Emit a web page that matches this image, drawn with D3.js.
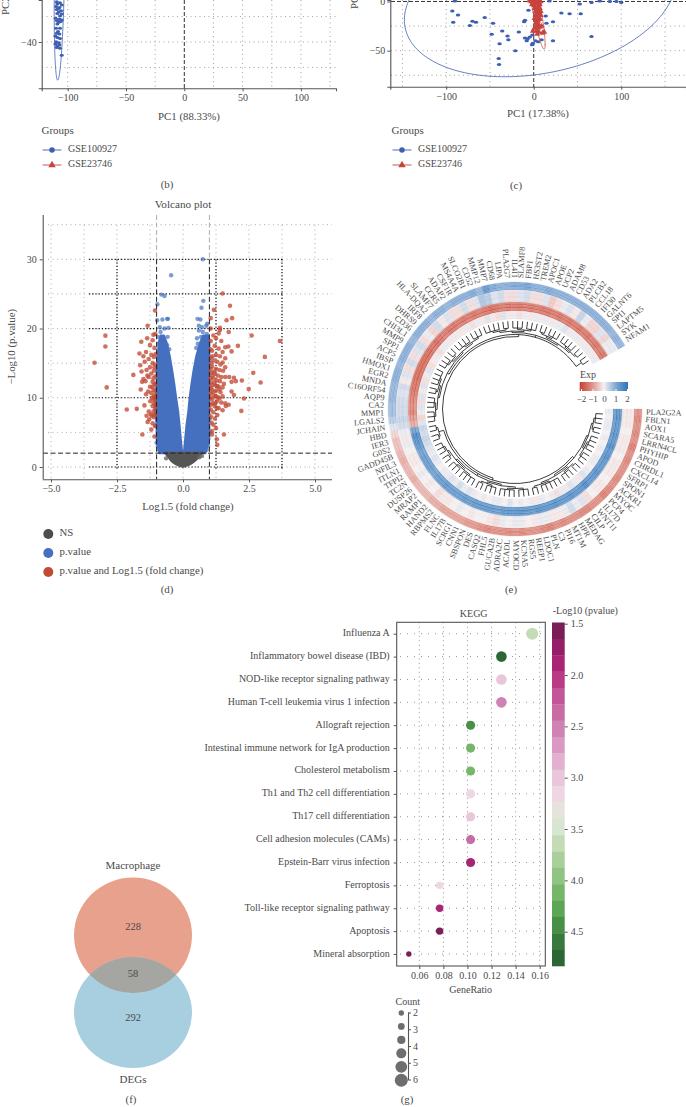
<!DOCTYPE html>
<html><head><meta charset="utf-8">
<script src="https://cdn.jsdelivr.net/npm/d3@7"></script>
<style>
html,body{margin:0;padding:0;background:#fff;overflow:hidden}
svg{display:block}
text{font-family:"Liberation Serif",serif;fill:#4a4a4a;font-size:10px}
.tick text{font-size:10px;fill:#4a4a4a}
</style></head><body>
<svg id="c" width="686" height="1107"></svg>
<script>
// ---------- panel (b) PCA ----------
const bBlue=[[-109.4,-24.2],[-106.6,-24.6],[-108.9,-25.1],[-105.1,-25.5],[-110,-26.1],[-107.1,-26.4],[-109.4,-27.2],[-105.7,-27.7],[-108,-26.8],[-107.7,-28.2],[-108.9,-28.8],[-105.1,-29],[-106.6,-29.8],[-110.3,-30.7],[-107.1,-31.1],[-105.1,-31.4],[-109.4,-31.6],[-107.7,-32.2],[-106,-31.9],[-108.9,-32.9],[-110,-34.6],[-106.6,-34.6],[-108.3,-35.9],[-109.4,-36.6],[-107.1,-36.9],[-110.6,-37.6],[-108.9,-38.2],[-106.6,-38.6],[-110,-39.9],[-107.7,-40.3],[-110.6,-40.8],[-108.9,-41.6],[-107.1,-41.2],[-109.4,-42.2],[-106.6,-42.5],[-105.1,-45.2]];
const bEllipse={cx:-107,cy:-12.5,w:4.6,h:42.5,phi:-20};
const bXTicks=[-100,-50,0,50,100], bXGrid=[-100,-75,-50,-25,25,50,75,100,125], bYTicks=[-40], bYGrid=[-30,-40,-50];
// ---------- panel (c) PCA ----------
const cBlue=[[-93,-9.7],[-86.5,-13.7],[-92,-21],[-70,-20],[-66,-21],[-73,-24.5],[-56,-16.4],[-46.5,-22],[-48,-33.4],[-36,-30],[-30,-35],[-29,-39],[-39,-43],[-40,-58],[-39.6,-64],[-21,-50],[-17,-31],[-10,-19],[-6,-9],[-10,-37],[-4.5,-36],[-1.5,-34],[-1,-42.5],[5,-41],[9,-39],[22,-40],[22,-20.5],[14.5,-22],[13.7,-14.7],[31.6,-11.7],[41,-12.4],[53.7,-12.4],[52.6,-2.5],[66,-35.7],[66,-1],[75.4,.5],[87,0],[94.5,0],[100,-1],[18,.5],[-90,.5],[-11,-20.5],[-7,-38],[-8,-40],[-2,-44],[2,-40]];
const cRed=[[-5,1],[-3,0],[-1,-1],[0,1],[2,0],[4,1],[6,-1],[8,0],[-2,-3],[1,-4],[3,-2],[5,-5],[7,-3],[1,-7],[3,-8],[5,-9],[7,-7],[2,-10],[4,-12],[6,-11],[8,-10],[2,-14],[4,-15],[6,-16],[8,-14],[1,-17],[3,-19],[5,-20],[7,-18],[2,-22],[4,-23],[6,-24],[3,-26],[5,-27],[7,-26],[9,-25],[1,-27],[3,-30],[6,-31],[10,-32],[12,-31],[4,-33],[-1,-30]];
const cEllipseBlue={cx:7.2,cy:1.5,w:155,h:78,phi:-15}, cEllipseRed={cx:1.5,cy:1.5,w:11.5,h:50,phi:64};
const cXTicks=[-100,0,100], cXGrid=[-150,-100,-50,50,100,150], cYTicks=[-50,0], cYGrid=[-25,-50,-75];
const groups=["GSE100927","GSE23746"];
// ---------- panel (d) volcano ----------
const volRed=[[-3.35,15.05],[-2.94,18.97],[-2.94,17.4],[-2.89,11.5],[-2.13,8.3],[-1.75,8.4],[-1.88,13.3],[-1.54,4.7],[-1.46,8.9],[-1.57,13.8],[-1.34,20.4],[-1.58,18.1],[-1.36,18.6],[-1.06,22.6],[-1.12,19.1],[3.67,18.2],[3.1,15.9],[2.6,19],[2.94,12.2],[2.66,13.6],[2.49,11.25],[2.31,9.9],[2.21,8.1],[2.23,12.5],[2.08,17.5],[1.86,21.5],[1.78,23.3],[1.5,25.05],[1.17,22.7],[1.65,21.2],[1.05,21.5],[1.73,19.5],[1.4,19.8],[1.84,16.7],[1.72,17.4],[1.75,13],[1.84,12.3],[1.93,12.9],[2,12.4],[1.84,10.9],[1.93,10.4],[1.73,9],[1.55,4.7],[1.3,3.2],[1.28,4],[1.1,4.7],
[-1.05,19.2],[-1.15,18.3],[-1.25,17.6],[-1.08,17.2],[-1.4,16.6],[-1.2,16.2],[-1.1,15.9],[-1.3,15.6],[-1.45,15.2],[-1.15,15],[-1.05,14.8],[-1.25,14.4],[-1.38,14],[-1.1,13.9],[-1.2,13.5],[-1.05,13.1],[-1.3,13],[-1.5,12.7],[-1.42,12.4],[-1.15,12.3],[-1.08,11.9],[-1.25,11.6],[-1.12,11.2],[-1.05,10.9],[-1.2,10.7],[-1.32,10.9],[-1.4,10.5],[-1.1,10.3],[-1.18,10],[-1.05,9.7],[-1.24,9.5],[-1.1,9.2],[-1.15,8.8],[-1.06,8.4],[-1.3,8],[-1.22,7.6],[-1.38,7.4],[-1.1,7.2],[-1.28,6.9],[-1.34,6.5],[-1.15,6.3],[-1.05,5.9],[-1.2,5.4],[-1.08,4.4],[-1.6,11.2],[-1.65,16.4],[-1.5,16],[-1.35,13.2],[-1.55,12.3],[-1.62,14.7],
[-1.04,16.3],[-1.08,14.4],[-1.12,12.8],[-1.04,12],[-1.16,11.6],[-1.04,10.2],[-1.12,9.8],[-1.04,8.9],[-1.12,8],[-1.04,7.6],[-1.18,7.4],
[1.05,20],[1.4,20.1],[1.35,19.3],[1.15,19],[1.25,18.6],[1.05,18.2],[1.45,18.2],[1.6,17.3],[1.2,17.5],[1.35,17.1],[1.1,16.8],[1.5,16.6],[1.25,16.2],[1.4,16],[1.05,15.8],[1.6,15.7],[1.15,15.4],[1.3,15.2],[1.5,15.1],[1.42,14.8],[1.6,14.4],[1.1,14.5],[1.25,14.2],[1.38,14],[1.52,13.9],[1.05,13.6],[1.2,13.5],[1.32,13.2],[1.45,13],[1.6,13],[1.15,12.8],[1.28,12.5],[1.4,12.4],[1.05,12.2],[1.55,12],[1.22,11.8],[1.35,11.6],[1.5,11.5],[1.1,11.2],[1.25,11],[1.42,10.8],[1.05,10.6],[1.18,10.3],[1.32,10.1],[1.5,10.2],[1.1,9.8],[1.28,9.5],[1.45,9.3],[1.6,9.2],[1.05,9],[1.2,8.8],[1.35,8.5],[1.5,8.2],[1.62,8.8],[1.15,7.9],[1.3,7.5],[1.05,7.3],[1.2,7],[1.08,6.4],[1.15,6.1],[1.25,5.6],[1.1,5.2],
[1.04,17],[1.12,16],[1.08,15],[1.04,14.2],[1.16,13.8],[1.12,13.2],[1.04,12.8],[1.18,12.2],[1.1,11.8],[1.04,11.4],[1.3,11.7],[1.38,11.2],[1.14,10.8],[1.04,10],[1.24,10.2],[1.38,9.9],[1.12,9.2],[1.22,9.2],[1.05,8.3],[1.28,8.5]];
const volBlue=[[-.45,27.7],[.75,30],[-.82,24.9],[-.7,24.7],[.77,24],[-.97,23.5],[.7,23],[-.98,21.2],[-.6,21.4],[-.78,21.3],[-.57,21.4],[.55,21.4],[.66,21.3],[.6,20.4],[.72,20.2],[.92,20.7],[.88,20.4],[-.88,20.2],[-.7,20],[-.55,20.1],[-.85,19.5],[-.95,18.8],[-.58,18.8],[.6,19.7],[.75,19.5],[.9,19.2],[.53,18.6],[.68,18.8],[.96,18.3],[-.95,3],[-1,3.5],[-.9,2.5],[.95,3],[.9,2.5],[-.92,17.8],[-.6,17.6],[-.52,17],[.5,17.2],[.56,17.8],[-.9,15.5],[.98,15.5],[-1.06,6],[-1.06,7.5],[1.04,5],[1.02,7]];
const volNS=[[-.64,1.25],[.62,1.4],[.72,1.6]];
// blue wings: for each -log10(p) level, the span
const wingLevels=[2,4,6,8,10,12,14,16,18,19];
const leftOuter =[-.9,-1,-1,-1.05,-1.05,-1,-1,-.96,-.92,-.85];
const leftInner =[-.03,-.08,-.13,-.18,-.26,-.33,-.41,-.5,-.62,-.72];
const rightInner=[.03,.08,.13,.2,.25,.32,.4,.5,.65,.76];
const rightOuter=[.85,1,1,1,1,1,1,1,1,.96];
const nsLevels=[0,.15,.4,.77,1.5,2.1];
const nsHalf=[.02,.15,.3,.45,.58,.7];
const volXTicks=[-5,-2.5,0,2.5,5], volYTicks=[0,10,20,30];
const volXGrid=[-5,-3.75,-2.5,-1.25,0,1.25,2.5,3.75,5], volYGrid=[0,5,10,15,20,25,30,35];
const volDarkX=[-2.5,1.25,3.75], volDarkY=[0,10,20,25,30];
const volLegend=["NS","p.value","p.value and Log1.5 (fold change)"];
// ---------- panel (e) circular heatmap ----------
const genes=["PLA2G2A","FBLN1","AOX1","SCARA5","LRRN4CL","PHYHIP","APOD","CHRDL1","CXCL14","SFRP1","SPON1","ACKR1","MYOC","PCP4","IL17D","WNT11","CILP","MEDAG","HPR","MT1M","PI16","C3","PLN","LDOC1","REEP1","RGS5","KCNA5","MYOCD","ACADL","ADRA2C","GUCA2B","FHL5","CASQ2","DES","SBSPON","CNN1","SCRG1","IL17B","FLNC","RBPMS2","HAND2","RAMP1","MRAP2","DUSP26","TC2N","TFPI2","ITLN1","NFIL3","GADD45B","G0S2","IER3","HBD","JCHAIN","LGALS2","MMP1","CA2","AQP9","C16ORF54","MNDA","EGR2","HMOX1","IBSP","ACP5","SPP1","MMP9","CHI3L1","CD36","DHRS9","IRF8","HLA-DQA2","SLAMF7","CCR5","ADAP2","CSF1R","MS4A4A","SLCO2B1","CD52","MMP12","MMP7","CD68","LIPA","PLA2G7","IL4I1","SLAMF8","FBP1","HS3ST2","TREM2","APOC1","APOE","UCP2","ADAM8","CD53","ADA2","PLCB2","CCL18","IFI30","GALNT6","SPI1","LAPTM5","SYK","NFAM1"];
const track1=[-1,-1.1,-1,-1.1,-1,-1.2,-1,-1.1,-1,-1,-1.1,-1,-1.1,-1.2,-1,-1,-1.1,-1.1,-1,-1,-1.1,-1,-1.2,-1.1,-1,-1,-1.1,-1,-1.1,-1,-1,-1.1,-1,-.9,-.9,-.8,-.8,-.8,-.8,-.7,-.7,-.6,-.6,-.6,-.7,-.6,-.6,-.7,-.6,-.5,-.5,-.3,.2,.5,.7,.7,.8,.8,.8,.9,.9,.8,.9,.9,.9,.8,.9,.9,.9,.8,.9,.9,.8,.9,.9,.9,1,.8,1.3,1,.9,.9,1,1,1.1,.9,.9,1,.9,.9,.9,.9,.9,.9,.9,.9,.9,.9,.8,.9,.8];
const track2=[-.1,-.1,-.1,0,-.1,-.1,-.1,0,-.1,-.1,-.1,0,-.1,-.1,0,-.2,.2,.1,.3,.1,-.1,-.1,.1,.1,-.1,0,.1,.1,0,.1,-.2,-.1,0,0,-.1,0,.1,0,-.1,-.1,-.2,0,-.1,0,.1,0,-.1,-.1,0,.1,-.1,.1,.3,.4,.3,.3,.3,.2,.3,-.1,.2,-.2,.3,-.2,.2,.3,-.2,.1,-.3,.3,-.1,.2,-.2,-.2,.3,-.2,.2,.6,.5,.2,.3,-.2,-.2,.2,.3,-.2,-.2,.2,-.4,-.2,.1,.2,-.1,.4,.1,-.3,-.3,.2,-.3,.1,.1];
const track3=[1.3,1.4,1.3,1.3,1.4,1.3,1.5,1.3,1.4,1.3,1.3,1.4,1.3,1.3,1.5,1.3,1.3,1.4,1.3,1.3,1.4,1.3,1.3,1.4,1.3,1.3,1.4,1.3,1.3,1.3,1.2,1.3,1.3,1.3,1.3,1.2,1.3,1.2,1.2,1.2,1.3,1.2,1.2,1.1,1.2,1.2,1.2,1.1,1.3,1.4,1.5,1.1,-.7,-.9,-1.1,-1,-1.1,-1.2,-1.3,-1.3,-1.4,-1.4,-1.4,-1.4,-1.4,-1.4,-1.3,-1.4,-1.3,-1.2,-1.3,-1.3,-1.2,-1.3,-1.2,-1.3,-1.2,-1.3,-1.4,-1.3,-1.2,-1.3,-1.2,-1.3,-1.2,-1.3,-1.2,-1.3,-1.3,-1.2,-1.3,-1.2,-1.3,-1.2,-1.3,-1.2,-1.3,-1.2,-1.3,-1.2,-1.3];
const track4=[.1,0,.1,.1,0,.1,0,.1,0,.1,.1,0,.1,.2,-.1,.1,.2,-.1,.1,-.2,.1,0,.1,-.1,.1,0,.1,0,.2,0,.1,.1,0,.1,0,.1,.2,.1,.3,.1,.2,.1,.1,0,.1,.2,.1,.2,.3,.4,.3,.4,.2,-.3,.1,.2,-.2,.2,-.1,.2,-.2,.1,.2,-.2,-.1,.1,-.2,.1,.1,-.1,.1,-.1,-.1,.1,-.2,.1,-.1,.2,-.1,-.2,.2,-.1,.1,-.2,.1,-.1,.1,-.1,.1,-.1,.1,.1,.2,-.1,.1,.1,-.1,.1,.1,-.1,.1];
const tracks=[track1,track2,track3,track4];
const rowShift=[-.14,.1,-.05,.18,-.1,.06];
const rowWeight=[.7,.3,1.5,.3];
const trackOuter=[127,119,107,98], trackInner=[119,107,98,90];
const dendro=[[[[[[3,2],[4,3]],[[2,3],[5,2]]],[[[3,4],[3,2]],[[4,3],[2,3]]],[[2,2]]],[[[[3,3],[2,4]],[[3,2],[4,3]]],[[[4,2],[3,3]],[[2,3],[4,2]]],[[2]]]]];
const expTicks=[-2,-1,0,1,2];
// ---------- panel (f) Venn ----------
const vennCounts={macrophage:228,both:58,degs:292};
// ---------- panel (g) KEGG ----------
const pathways=["Influenza A","Inflammatory bowel disease (IBD)","NOD-like receptor signaling pathway","Human T-cell leukemia virus 1 infection","Allograft rejection","Intestinal immune network for IgA production","Cholesterol metabolism","Th1 and Th2 cell differentiation","Th17 cell differentiation","Cell adhesion molecules (CAMs)","Epstein-Barr virus infection","Ferroptosis","Toll-like receptor signaling pathway","Apoptosis","Mineral absorption"];
const geneRatio=[.1538,.1282,.1282,.1282,.1026,.1026,.1026,.1026,.1026,.1026,.1026,.0769,.0769,.0769,.0513];
const counts=[6,5,5,5,4,4,4,4,4,4,4,3,3,3,2];
const logP=[3.6,4.72,2.95,2.5,4.45,4.1,4.1,3.15,2.95,2.3,1.9,3.15,1.9,1.58,1.55];
const pColors=["#7a1e58","#941e68","#ab2375","#bb3a85","#c3559a","#c96ca4","#cf82b3","#da99c2","#e3b0cf","#eac6da","#eed7e2","#e6e3dd","#d8e6d1","#c3dcb6","#a9d09a","#8fc482","#75b669","#5da654","#479046","#377a3b","#2c6634"];
const ratioTicks=[.06,.08,.1,.12,.14,.16];
const pTicks=[1.5,2,2.5,3,3.5,4,4.5];
const legendCounts=[2,2.6,3.3,4,5,6], legendRadii=[2.7,3.4,4.1,5,5.9,6.5], countTicks=[2,3,4,5,6];

// =================== drawing ===================
const svg=d3.select("#c");
const INK="#555", BLUE="#3f5fb0", RED="#c8433f";
const minus=d=>String(d).replace("-","−");
const fmt1=d=>minus(d3.format(".1f")(d));

function gridV(g,x,vals,y0,y1,col,dash,w){g.selectAll(null).data(vals).join("line").attr("x1",x).attr("x2",x).attr("y1",y0).attr("y2",y1).attr("stroke",col).attr("stroke-width",w||.9).attr("stroke-dasharray",dash||"1 3.5");}
function gridH(g,y,vals,x0,x1,col,dash,w){g.selectAll(null).data(vals).join("line").attr("y1",y).attr("y2",y).attr("x1",x0).attr("x2",x1).attr("stroke",col).attr("stroke-width",w||.9).attr("stroke-dasharray",dash||"1 3.5");}
function axisStyle(g){g.selectAll(".domain").attr("stroke",INK).attr("stroke-width",1.1);g.selectAll(".tick line").attr("stroke",INK);g.selectAll("text").style("font-family",'"Liberation Serif",serif');return g;}
function ell(x,y,e){return d3.line().x(t=>x(e.cx+e.w*Math.cos(t))).y(t=>y(e.cy-e.h*Math.sin(t+e.phi*Math.PI/180)))(d3.range(0,6.34,.03));}
function txt(x,y,s,a,size){const t=svg.append("text").attr("x",x).attr("y",y).attr("text-anchor",a||"start").attr("dominant-baseline","middle").text(s);if(size)t.style("font-size",size+"px");return t;}
function groupLegend(x,y1,y2){
  txt(x,131,"Groups","start",11);
  [[y1,BLUE,0],[y2,RED,1]].forEach(([y,c,i])=>{
    svg.append("line").attr("x1",x+1).attr("x2",x+20).attr("y1",y).attr("y2",y).attr("stroke",c).attr("stroke-width",.9);
    svg.append("path").attr("transform",`translate(${x+10.5},${y})`).attr("d",d3.symbol().type(i?d3.symbolTriangle:d3.symbolCircle).size(24)()).attr("fill",c);
    txt(x+26.5,y,groups[i]);
  });
}
// ---- (b)
(function(){
  const x=d3.scaleLinear().domain([-122.3,130.1]).range([41.7,336]);
  const y=d3.scaleLinear().domain([-58.2,-23.5]).range([88.3,0]);
  const g=svg.append("g");
  gridV(g,x,bXGrid,0,88,"#999");gridH(g,y,bYGrid,42,336,"#999");
  g.append("line").attr("x1",x(0)).attr("x2",x(0)).attr("y1",0).attr("y2",88).attr("stroke","#333").attr("stroke-dasharray","4 2");
  g.append("path").attr("d",ell(x,y,bEllipse)).attr("fill","none").attr("stroke",BLUE).attr("stroke-width",.8);
  g.selectAll(null).data(bBlue).join("ellipse").attr("cx",d=>x(d[0])).attr("cy",d=>y(d[1])).attr("rx",2).attr("ry",1.5).attr("fill",BLUE);
  axisStyle(g.append("g").attr("transform","translate(0,88.3)").call(d3.axisBottom(x).tickValues(bXTicks).tickFormat(minus).tickSize(3).tickPadding(3)));
  axisStyle(g.append("g").attr("transform","translate(41.7,0)").call(d3.axisLeft(y).tickValues(bYTicks).tickFormat(minus).tickSize(3).tickPadding(2)));
  txt(189,118,"PC1 (88.33%)","middle",10.8);
  svg.append("text").attr("transform","translate(9,15) rotate(-90)").style("font-size","10.8px").text("PC2");
  groupLegend(41.5,150,165);
  txt(167,186,"(b)","middle",10.8);
})();
// ---- (c)
(function(){
  const x=d3.scaleLinear().domain([-163.9,174]).range([390.3,686]);
  const y=d3.scaleLinear().domain([-86.6,1.5]).range([86.7,0]);
  const g=svg.append("g");
  gridV(g,x,cXGrid,0,87,"#999");gridH(g,y,cYGrid,391,686,"#999");
  g.append("line").attr("x1",x(0)).attr("x2",x(0)).attr("y1",0).attr("y2",87).attr("stroke","#333").attr("stroke-dasharray","4 2");
  g.append("line").attr("x1",391).attr("x2",686).attr("y1",y(0)).attr("y2",y(0)).attr("stroke","#333").attr("stroke-dasharray","4 2");
  g.append("path").attr("d",ell(x,y,cEllipseBlue)).attr("fill","none").attr("stroke",BLUE).attr("stroke-width",.8);
  g.selectAll(null).data(cBlue).join("ellipse").attr("cx",d=>x(d[0])).attr("cy",d=>y(d[1])).attr("rx",2.2).attr("ry",1.5).attr("fill",BLUE);
  g.append("path").attr("d",ell(x,y,cEllipseRed)).attr("fill","none").attr("stroke",RED).attr("stroke-width",.8);
  g.selectAll(null).data(cRed).join("path").attr("transform",d=>`translate(${x(d[0])},${y(d[1])})`).attr("d",d3.symbol().type(d3.symbolTriangle).size(15)()).attr("fill",RED);
  axisStyle(g.append("g").attr("transform","translate(0,86.7)").call(d3.axisBottom(x).tickValues(cXTicks).tickFormat(minus).tickSize(3).tickPadding(3)));
  axisStyle(g.append("g").attr("transform","translate(390.3,0)").call(d3.axisLeft(y).tickValues(cYTicks).tickFormat(minus).tickSize(3).tickPadding(2)));
  txt(538,115,"PC1 (17.38%)","middle",10.8);
  svg.append("text").attr("transform","translate(358,9) rotate(-90)").style("font-size","10.8px").text("PC2");
  groupLegend(391.5,150,165);
  txt(516,187,"(c)","middle",10.8);
})();
// ---- (d)
(function(){
  const x=d3.scaleLinear().domain([-5,5]).range([51,315]);
  const y=d3.scaleLinear().domain([0,30]).range([467,259.3]);
  const g=svg.append("g");
  gridV(g,x,volXGrid,225,478,"#a5a5a5");gridH(g,y,volYGrid,48,332,"#a5a5a5");
  gridV(g,x,volDarkX,y(30),y(-.3),"#111","1.2 2",1.2);gridH(g,y,volDarkY,x(-2.5)-28,x(3.75)+2,"#111","1.2 2",1.2);
  const wing=(a,b)=>d3.area().x0((d,i)=>x(a[i])).x1((d,i)=>x(b[i])).y(d=>y(d))(wingLevels);
  [[leftOuter,leftInner],[rightInner,rightOuter]].forEach(([a,b])=>g.append("path").attr("d",wing(a,b)).attr("fill","#4570c0").attr("stroke","#4570c0").attr("stroke-width",2).attr("stroke-linejoin","round"));
  g.selectAll(null).data(volBlue).join("circle").attr("cx",d=>x(d[0])).attr("cy",d=>y(d[1])).attr("r",2.2).attr("fill","#4570c0").attr("opacity",.7);
  g.selectAll(null).data(volRed).join("circle").attr("cx",d=>x(d[0])).attr("cy",d=>y(d[1])).attr("r",2.3).attr("fill","#c24a35").attr("opacity",.78);
  g.append("path").attr("d",d3.area().x0((d,i)=>x(-nsHalf[i])).x1((d,i)=>x(nsHalf[i]+(d>1?.05:0))).y(d=>y(d)).curve(d3.curveBasis)(nsLevels)).attr("fill","#555").attr("stroke","#555").attr("stroke-width",1.5);
  g.selectAll(null).data(volNS).join("circle").attr("cx",d=>x(d[0])).attr("cy",d=>y(d[1])).attr("r",2.2).attr("fill","#666").attr("opacity",.8);
  g.append("line").attr("x1",43).attr("x2",332).attr("y1",y(2)).attr("y2",y(2)).attr("stroke","#222").attr("stroke-width",1).attr("stroke-dasharray","5 2.5");
  [-1,1].forEach(v=>g.append("line").attr("x1",x(v)).attr("x2",x(v)).attr("y1",y(30)).attr("y2",479).attr("stroke","#222").attr("stroke-width",1).attr("stroke-dasharray","5 2.5"));
  [-1,1].forEach(v=>g.append("line").attr("x1",x(v)).attr("x2",x(v)).attr("y1",215).attr("y2",y(30)).attr("stroke","#999").attr("stroke-width",.8).attr("stroke-dasharray","5 2.5"));
  const ax=axisStyle(g.append("g").attr("transform","translate(0,479.3)").call(d3.axisBottom(x).tickValues(volXTicks).tickFormat(fmt1).tickSize(3).tickPadding(3)));
  ax.select(".domain").attr("d","M42.7,0.5H332");
  const ay=axisStyle(g.append("g").attr("transform","translate(42.7,0)").call(d3.axisLeft(y).tickValues(volYTicks).tickFormat(minus).tickSize(3).tickPadding(3)));
  ay.select(".domain").attr("d","M0.5,215V479");
  txt(183,205.7,"Volcano plot","middle",11.2);
  txt(188,508,"Log1.5 (fold change)","middle",10.8);
  svg.append("text").attr("transform","translate(13,346.7) rotate(-90)").attr("text-anchor","middle").attr("dominant-baseline","middle").style("font-size","10.8px").text("−Log10 (p.value)");
  ["#4d4d4d","#4570c0","#c24a35"].forEach((c,i)=>{svg.append("circle").attr("cx",48.3).attr("cy",534+i*19).attr("r",5).attr("fill",c);txt(59.5,534+i*19,volLegend[i],"start",10.8);});
  txt(167,591,"(d)","middle",10.8);
})();
// ---- (e)
(function(){
  const cx=515,cy=409,step=330/genes.length;
  const g=svg.append("g").attr("transform",`translate(${cx},${cy})`);
  const col=d3.scaleLinear().domain([-2,-1,0,1,2]).range(["#c5402f","#dd8f84","#f6f1f2","#7ea6d3","#2c74b6"]).clamp(true);
  const rad=d=>d*Math.PI/180;
  const ang=i=>90+i*step;
  tracks.forEach((tr,t)=>{
    const h=(trackOuter[t]-trackInner[t])/rowShift.length;
    rowShift.forEach((s,r)=>{
      const shifted=tr.map(v=>v+s*rowWeight[t]*Math.sign(v||1));
      g.selectAll(null).data(shifted).join("path").attr("d",(v,i)=>d3.arc()({innerRadius:trackOuter[t]-h*(r+1),outerRadius:trackOuter[t]-h*r,startAngle:rad(ang(i)),endAngle:rad(ang(i+1))}))
       .attr("fill",v=>col(v)).attr("stroke",v=>col(v)).attr("stroke-width",.25);
    });
  });
  g.selectAll(null).data(genes).join("text")
    .attr("transform",(d,i)=>{const a=ang(i+.5);const flip=a>180&&a<360;return `rotate(${a-90}) translate(131,0)`+(flip?" rotate(180)":"");})
    .attr("text-anchor",(d,i)=>{const a=ang(i+.5);return a>180&&a<360?"end":"start";})
    .attr("dominant-baseline","middle").style("font-size","8.2px").text(d=>d);
  // dendrogram
  const root=d3.hierarchy(dendro[0],d=>Array.isArray(d)?d:(d>0?d3.range(d).map(()=>0):null));
  d3.cluster().size([330-step,1]).separation(()=>1)(root);
  const radByHeight=[88,81,79.5,78,76.5,74.5,72.5,71];
  const A=n=>rad(step/2+n.x);
  const p=d3.path();
  root.each(n=>{n.r=radByHeight[Math.min(n.height,7)];});
  root.each(n=>{
    if(n.children&&n.children.length>1){
      const a0=A(n.children[0]),a1=A(n.children[n.children.length-1]);
      p.moveTo(n.r*Math.cos(a0),n.r*Math.sin(a0));p.arc(0,0,n.r,a0,a1);
    }
    if(n.parent){const a=A(n);p.moveTo(n.parent.r*Math.cos(a),n.parent.r*Math.sin(a));p.lineTo(n.r*Math.cos(a),n.r*Math.sin(a));}
  });
  g.append("path").attr("d",p.toString()).attr("fill","none").attr("stroke","#1a1a1a").attr("stroke-width",.85);
  // legend
  txt(580,376,"Exp");
  const lx=d3.scaleLinear().domain([-2,2]).range([581,627]);
  const defs=svg.append("defs").append("linearGradient").attr("id","expg");
  d3.range(-2,2.01,.5).forEach(v=>defs.append("stop").attr("offset",(v+2)/4).attr("stop-color",col(v)));
  svg.append("rect").attr("x",579.7).attr("y",382).attr("width",48.3).attr("height",9).attr("fill","url(#expg)");
  const la=svg.append("g").attr("transform","translate(0,391)").call(d3.axisBottom(lx).tickValues(expTicks).tickFormat(minus).tickSize(-2).tickPadding(5));
  la.select(".domain").remove();la.selectAll(".tick line").attr("stroke","#fff");la.selectAll("text").style("font-size","9px").style("font-family",'"Liberation Serif",serif');
  txt(511,591,"(e)","middle",10.8);
})();
// ---- (f)
(function(){
  const cx=133,cyT=935.3,cyB=1012.5;
  const cp=svg.append("defs").append("clipPath").attr("id","vt");cp.append("ellipse").attr("cx",cx).attr("cy",cyT).attr("rx",59).attr("ry",57.7);
  svg.append("ellipse").attr("cx",cx).attr("cy",cyT).attr("rx",59).attr("ry",57.7).attr("fill","#e8a18d");
  svg.append("ellipse").attr("cx",cx).attr("cy",cyB).attr("rx",59).attr("ry",55.5).attr("fill","#a8cfe0");
  svg.append("ellipse").attr("cx",cx).attr("cy",cyB).attr("rx",59).attr("ry",55.5).attr("fill","#a5a5a2").attr("clip-path","url(#vt)");
  txt(133,866.7,"Macrophage","middle",11);
  txt(133,928,vennCounts.macrophage,"middle",10.5);
  txt(133,975,vennCounts.both,"middle",10.5);
  txt(133,1019,vennCounts.degs,"middle",10.5);
  txt(133,1080,"DEGs","middle",11);
  txt(131,1101,"(f)","middle",10.8);
})();
// ---- (g)
(function(){
  const left=396.7,right=545.3,top=622.3,bottom=966;
  const x=d3.scaleLinear().domain([.06,.16]).range([419.3,539.7]);
  const y=d3.scalePoint().domain(pathways).range([633.7,954]);
  const r=d3.scaleSqrt().domain([2,6]).range([2.7,6]);
  const cScale=d3.scaleQuantize().domain([1.5,4.83]).range(pColors);
  const g=svg.append("g");
  gridV(g,x,ratioTicks,top,bottom,"#888");
  gridH(g,y,pathways,400,543,"#888","1 6");
  g.append("rect").attr("x",left).attr("y",top).attr("width",right-left).attr("height",bottom-top).attr("fill","none").attr("stroke",INK).attr("stroke-width",1.1);
  g.selectAll(null).data(pathways).join("circle").attr("cx",(d,i)=>x(geneRatio[i])).attr("cy",d=>y(d)).attr("r",(d,i)=>r(counts[i])).attr("fill",(d,i)=>cScale(logP[i]));
  const ax=axisStyle(g.append("g").attr("transform",`translate(0,${bottom})`).call(d3.axisBottom(x).tickValues(ratioTicks).tickFormat(d3.format(".2f")).tickSize(3).tickPadding(3)));
  ax.select(".domain").remove();
  const ay=axisStyle(g.append("g").attr("transform",`translate(${left},0)`).call(d3.axisLeft(y).tickSize(3).tickPadding(4)));
  ay.select(".domain").remove();
  ay.selectAll("text").attr("dy","0.2em");
  txt(473.7,614.7,"KEGG","middle");
  txt(470.7,991,"GeneRatio","middle");
  // colour bar
  const cy=d3.scaleLinear().domain([1.5,4.5]).range([623.7,931.7]);
  const bh=(bottom-622.5)/pColors.length;
  g.selectAll(null).data(pColors).join("rect").attr("x",552).attr("width",12.7).attr("y",(d,i)=>622.5+i*bh).attr("height",bh+.3).attr("fill",d=>d);
  const ca=axisStyle(g.append("g").attr("transform","translate(564.7,0)").call(d3.axisRight(cy).tickValues(pTicks).tickFormat(d3.format(".1f")).tickSize(3).tickPadding(3)));
  ca.select(".domain").remove();
  txt(552.7,611.7,"-Log10 (pvalue)");
  // size legend
  txt(407.7,1003,"Count","middle");
  const ly=d3.scaleLinear().domain([2,6]).range([1012.5,1079.5]);
  legendCounts.forEach((c,i)=>svg.append("circle").attr("cx",401.3).attr("cy",1013+i*13.45).attr("r",legendRadii[i]).attr("fill","#6e6e6e"));
  const la=svg.append("g").attr("transform","translate(408,0)").call(d3.axisRight(ly).tickValues(countTicks).tickFormat(d3.format("d")).tickSize(3).tickPadding(2));
  axisStyle(la);la.select(".domain").attr("d","M0.5,1012.5V1080");
  txt(407,1100.7,"(g)","middle",10.8);
})();
</script>
</body></html>
